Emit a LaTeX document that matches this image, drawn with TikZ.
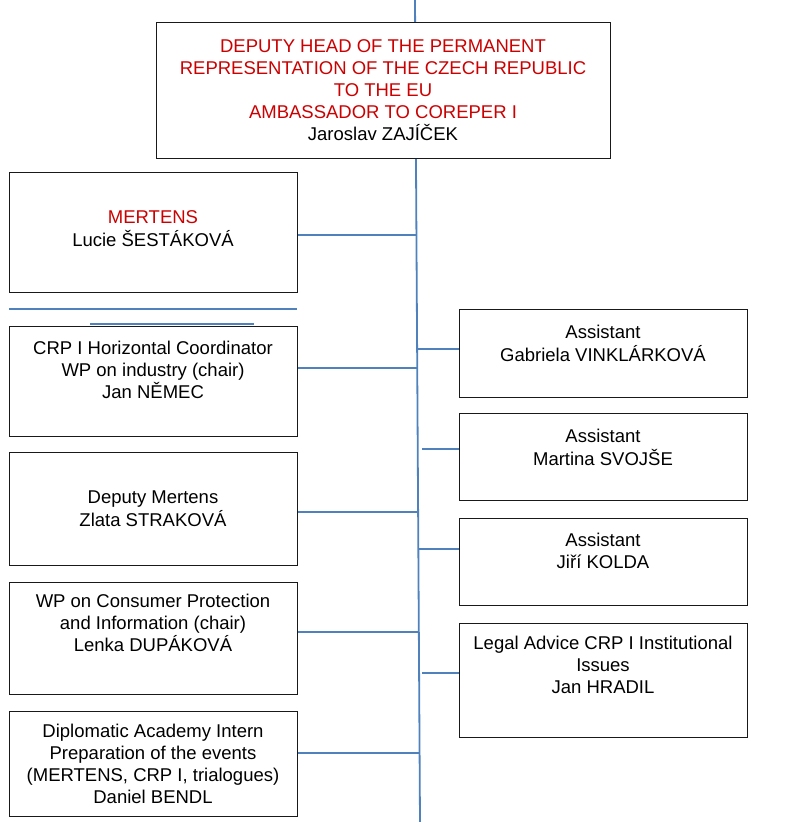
\documentclass[tikz,border=0pt]{standalone}
\usepackage{fontspec}
\setmainfont{Liberation Sans}
\definecolor{linkblue}{RGB}{79,129,189}
\definecolor{titlered}{RGB}{204,0,0}
\begin{document}
\begin{tikzpicture}[x=1pt,y=-1pt,
  box/.style={draw=black!90, line width=1.1pt, fill=white, inner sep=0pt, anchor=north west},
  txt/.style={inner sep=0pt, anchor=north, align=center, font=\fontsize{18.5}{22}\selectfont},
  link/.style={draw=linkblue, line width=1.8pt}]
\useasboundingbox (0,0) rectangle (794,822);
% spine
\coordinate (spinetop) at (415,0);
\coordinate (spinebot) at (420,822);
\draw[link] (spinetop) -- (spinebot);
% stray lines
\coordinate (s1a) at (9,309);
\coordinate (s1b) at (297,309);
\draw[link, line width=1.4pt] (s1a) -- (s1b);
\coordinate (s2a) at (90,324);
\coordinate (s2b) at (254,324);
\draw[link, line width=2.6pt] (s2a) -- (s2b);
% top box
\node[box, minimum width=454pt, minimum height=136pt] (top) at (156,22) {};
\node[txt, text=titlered] (toptxt) at (383,36.6) {\strut DEPUTY HEAD OF THE PERMANENT\\REPRESENTATION OF THE CZECH REPUBLIC\\TO THE EU\\AMBASSADOR TO COREPER I\\{\color{black}Jaroslav ZAJÍČEK}};
% left boxes
\node[box, minimum width=288pt, minimum height=120pt] (mert) at (9,172) {};
\node[txt] (merttxt) at (153,207.6) {\strut{\color{titlered}MERTENS}\\Lucie ŠESTÁKOVÁ};
\node[box, minimum width=288pt, minimum height=110pt] (crp) at (9,326) {};
\node[txt] (crptxt) at (153,338.6) {\strut CRP I Horizontal Coordinator\\WP on industry (chair)\\Jan NĚMEC};
\node[box, minimum width=288pt, minimum height=113pt] (dep) at (9,452) {};
\node[txt] (deptxt) at (153,487.6) {\strut Deputy Mertens\\Zlata STRAKOVÁ};
\node[box, minimum width=288pt, minimum height=112pt] (wp) at (9,582) {};
\node[txt] (wptxt) at (153,591.6) {\strut WP on Consumer Protection\\and Information (chair)\\Lenka DUPÁKOVÁ};
\node[box, minimum width=288pt, minimum height=105pt] (dip) at (9,711) {};
\node[txt] (diptxt) at (153,721.6) {\strut Diplomatic Academy Intern\\Preparation of the events\\(MERTENS, CRP I, trialogues)\\Daniel BENDL};
% right boxes
\node[box, minimum width=288pt, minimum height=88pt] (a1) at (459,309) {};
\node[txt] (a1txt) at (603,322.6) {\strut Assistant\\Gabriela VINKLÁRKOVÁ};
\node[box, minimum width=288pt, minimum height=87pt] (a2) at (459,413) {};
\node[txt] (a2txt) at (603,426.6) {\strut Assistant\\Martina SVOJŠE};
\node[box, minimum width=288pt, minimum height=87pt] (a3) at (459,518) {};
\node[txt] (a3txt) at (603,530.6) {\strut Assistant\\Jiří KOLDA};
\node[box, minimum width=288pt, minimum height=114pt] (leg) at (459,623) {};
\node[txt] (legtxt) at (603,633.6) {\strut Legal Advice CRP I Institutional\\Issues\\Jan HRADIL};
% connectors left
\coordinate (jm) at (416.4,235);
\draw[link] (jm -| mert.east) -- (jm);
\coordinate (jc) at (417.2,368);
\draw[link] (jc -| crp.east) -- (jc);
\coordinate (jd) at (418.1,512);
\draw[link] (jd -| dep.east) -- (jd);
\coordinate (jw) at (418.8,632);
\draw[link] (jw -| wp.east) -- (jw);
\coordinate (jdi) at (419.6,753);
\draw[link] (jdi -| dip.east) -- (jdi);
% connectors right
\coordinate (ja1) at (417.1,349);
\draw[link] (ja1) -- (ja1 -| a1.west);
\coordinate (ja2) at (422,449);
\draw[link] (ja2) -- (ja2 -| a2.west);
\coordinate (ja3) at (418.3,549);
\draw[link] (ja3) -- (ja3 -| a3.west);
\coordinate (jl) at (422,673);
\draw[link] (jl) -- (jl -| leg.west);
\end{tikzpicture}
\end{document}
